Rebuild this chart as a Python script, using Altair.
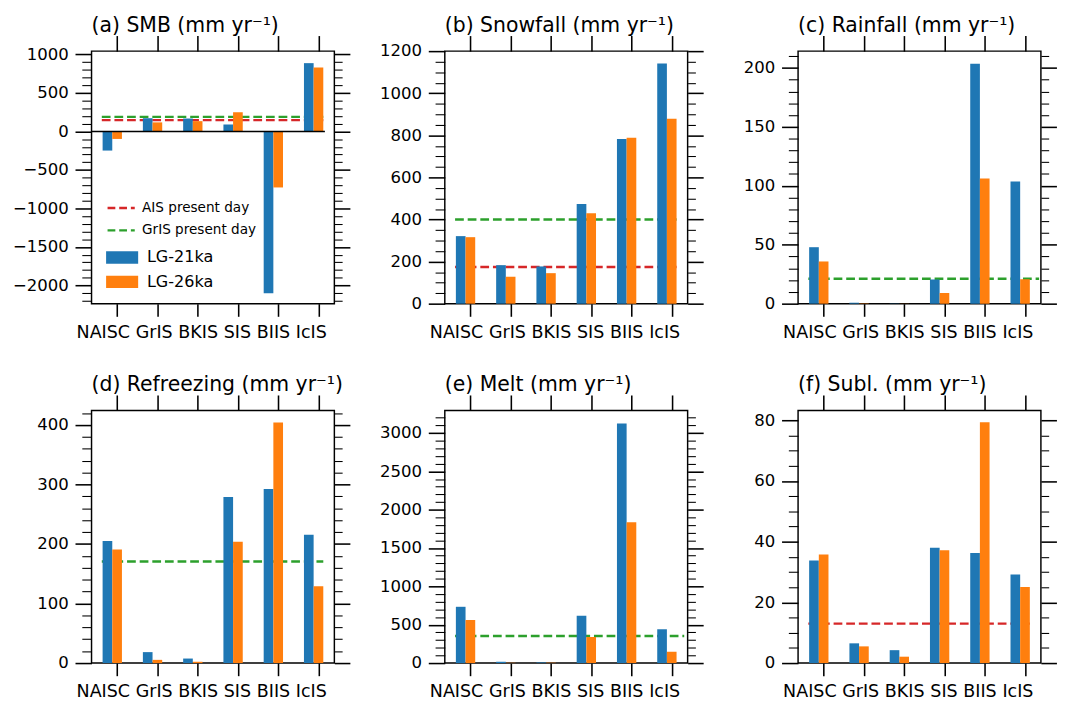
import math
import altair as alt
import pandas as pd

CATEGORIES = ["NAISC", "GrIS", "BKIS", "SIS", "BIIS", "IcIS"]
# horizontal shift (px) of each category label relative to its tick, as in the reference
LABEL_SHIFT = [-14.7, -3.8, 0, -1, -5.4, -7.8]
SERIES = ["LG-21ka", "LG-26ka"]
SERIES_COLORS = ["#1f77b4", "#ff7f0e"]
REF_NAMES = ["AIS present day", "GrIS present day"]
REF_COLORS = ["#d62728", "#2ca02c"]

SMB_21 = [-248, 172, 168, 92, -2100, 887]
SMB_26 = [-97, 118, 134, 248, -727, 832]
SNOW_21 = [321, 183, 177, 474, 783, 1141]
SNOW_26 = [316, 128, 145, 430, 789, 879]
RAIN_21 = [47.9, 0.8, 0.2, 20.5, 203.6, 103.7]
RAIN_26 = [35.8, 0.3, 0.1, 9.0, 106.2, 20.8]
REFR_21 = [205, 18.4, 7.6, 279, 292.7, 215.7]
REFR_26 = [191, 5.4, 2.2, 204, 404.3, 129]
MELT_21 = [734, 17, 8, 617, 3126, 441]
MELT_26 = [562, 4, 5, 340, 1838, 147]
SUBL_21 = [33.8, 6.5, 4.25, 38.0, 36.3, 29.2]
SUBL_26 = [35.8, 5.5, 2.1, 37.2, 79.3, 25.1]

# reference lines (AIS present day, GrIS present day); None = not drawn
AIS_PD = [147, 174, None, None, None, 13.0]
GRIS_PD = [189, 400, 21.1, 170.7, 352, None]

TITLES = ["(a) SMB (mm yr⁻¹)", "(b) Snowfall (mm yr⁻¹)", "(c) Rainfall (mm yr⁻¹)",
          "(d) Refreezing (mm yr⁻¹)", "(e) Melt (mm yr⁻¹)", "(f) Subl. (mm yr⁻¹)"]
V21 = [SMB_21, SNOW_21, RAIN_21, REFR_21, MELT_21, SUBL_21]
V26 = [SMB_26, SNOW_26, RAIN_26, REFR_26, MELT_26, SUBL_26]
YDOMS = [[-2236, 1043], [0, 1200], [0, 214.2], [0, 424.4], [0, 3294], [0, 83.2]]
MAJOR = [500, 200, 50, 100, 500, 20]
MINOR = [100, 50, 10, 20, 100, 5]
LINE_START = [-0.38] * 6
LINE_END = [5.12, 5.12, 5.35, 5.12, 5.31, 5.12]

OFFSETS = [-0.24, 0.0]
BAR_W = 0.24
XDOM = [-0.635, 5.395]
FONT = "DejaVu Sans"
W, H = 250, 260

label_expr = "[" + ",".join(f"'{c}'" for c in CATEGORIES) + "][datum.value]"
shift_expr = "[" + ",".join(str(s) for s in LABEL_SHIFT) + "][datum.value]"


def panel(i):
    rows = []
    for s, vals, off in zip(SERIES, [V21[i], V26[i]], OFFSETS):
        for j, v in enumerate(vals):
            rows.append(dict(cat=CATEGORIES[j], series=s,
                             x0=j + off - BAR_W / 2, x1=j + off + BAR_W / 2, value=v))
    bars_df = pd.DataFrame(rows)
    refs = []
    for name, arr in zip(REF_NAMES, [AIS_PD, GRIS_PD]):
        if arr[i] is not None:
            refs.append(dict(name=name, value=arr[i], xs=LINE_START[i], xe=LINE_END[i]))
    ref_df = pd.DataFrame(refs)

    lo, hi = YDOMS[i]
    mn, mj = MINOR[i], MAJOR[i]
    yticks = list(range(int(math.ceil(lo / mn)) * mn, int(math.floor(hi / mn)) * mn + 1, mn))
    major_test = f"datum.value % {mj} === 0"

    xscale = alt.Scale(domain=XDOM, nice=False, zero=False)
    yscale = alt.Scale(domain=YDOMS[i], nice=False, zero=False)

    left_axis = alt.Axis(orient="left", values=yticks, format="d",
                         labelExpr=f"{major_test} ? datum.label : ''",
                         tickSize=alt.ExprRef(expr=f"{major_test} ? 17 : 10"),
                         tickWidth=alt.ExprRef(expr=f"{major_test} ? 1.6 : 1.1"),
                         labelPadding=7, labelFontSize=17, domain=False, grid=False,
                         title=None, labelOverlap=False, labelFlush=False,
                         minExtent=80, maxExtent=80)
    right_axis = alt.Axis(orient="right", values=yticks, labels=False,
                          tickSize=alt.ExprRef(expr=f"{major_test} ? 16 : 8"),
                          tickWidth=alt.ExprRef(expr=f"{major_test} ? 1.6 : 1.1"),
                          domain=False, grid=False, title=None,
                          minExtent=16, maxExtent=16)
    bottom_axis = alt.Axis(orient="bottom", values=list(range(len(CATEGORIES))),
                           labelExpr=label_expr, labelOffset=alt.ExprRef(expr=shift_expr),
                           tickSize=13, tickWidth=1.6,
                           labelPadding=7.5, labelFontSize=18, domain=False, grid=False,
                           title=None, labelFlush=False, labelOverlap=False,
                           minExtent=40, maxExtent=40)
    top_axis = alt.Axis(orient="top", values=list(range(len(CATEGORIES))), labels=False,
                        tickSize=16, tickWidth=1.6, domain=False, grid=False, title=None,
                        minExtent=16, maxExtent=16)

    if i == 0:
        fill_legend = alt.Legend(title=None, orient="none", legendX=15, legendY=196,
                                 symbolType="M-1,-0.385H1V0.385H-1Z", symbolSize=1089,
                                 symbolStrokeWidth=0, symbolOpacity=1,
                                 labelFontSize=16.5, labelFont=FONT, labelColor="black",
                                 labelOffset=9, rowPadding=-8, padding=0)
        stroke_legend = alt.Legend(title=None, orient="none", legendX=15, legendY=146,
                                   symbolType="stroke", symbolSize=784,
                                   symbolStrokeWidth=2.5, symbolDash=[8, 4],
                                   labelFontSize=14, labelFont=FONT, labelColor="black",
                                   labelOffset=6, rowPadding=-4, padding=0)
    else:
        fill_legend = None
        stroke_legend = None

    rules = alt.Chart(ref_df).mark_rule(strokeDash=[9, 4], strokeWidth=2.5).encode(
        x=alt.X("xs:Q", scale=xscale, axis=top_axis),
        x2="xe:Q",
        y=alt.Y("value:Q", scale=yscale, axis=right_axis),
        stroke=alt.Stroke("name:N", scale=alt.Scale(domain=REF_NAMES, range=REF_COLORS),
                          legend=stroke_legend),
    )
    bars = alt.Chart(bars_df).mark_bar().encode(
        x=alt.X("x0:Q", scale=xscale, axis=bottom_axis),
        x2="x1:Q",
        y=alt.Y("value:Q", scale=yscale, axis=left_axis),
        y2=alt.datum(0),
        color=alt.Color("series:N", scale=alt.Scale(domain=SERIES, range=SERIES_COLORS),
                        legend=fill_legend),
    )
    layers = [rules, bars]
    if lo < 0:
        zero_df = pd.DataFrame([dict(xs=XDOM[0], xe=5.16, value=0)])
        zero = alt.Chart(zero_df).mark_rule(color="black", strokeWidth=1.5).encode(
            x=alt.X("xs:Q", scale=xscale, axis=None),
            x2="xe:Q",
            y=alt.Y("value:Q", scale=yscale, axis=None),
        )
        layers.append(zero)
    return alt.layer(*layers).resolve_axis(x="independent", y="independent").properties(
        width=W, height=H,
        title=alt.TitleParams(TITLES[i], anchor="start", frame="group", fontSize=21,
                              font=FONT, fontWeight="normal", baseline="alphabetic",
                              offset=-18, color="black"),
    )


chart = alt.concat(*[panel(i) for i in range(6)], columns=3,
                   spacing={"row": 31, "column": 14.7}).resolve_legend(
    color="independent", stroke="independent"
).properties(
    padding={"left": 3, "top": -4, "right": 0, "bottom": 0}
).configure_view(
    stroke="black", strokeWidth=1.5
).configure_axis(
    labelFont=FONT, labelColor="black", tickColor="black"
).configure_legend(
    labelFont=FONT, labelColor="black"
)

chart.save("out.html", embed_options={"renderer": "svg", "actions": False})
